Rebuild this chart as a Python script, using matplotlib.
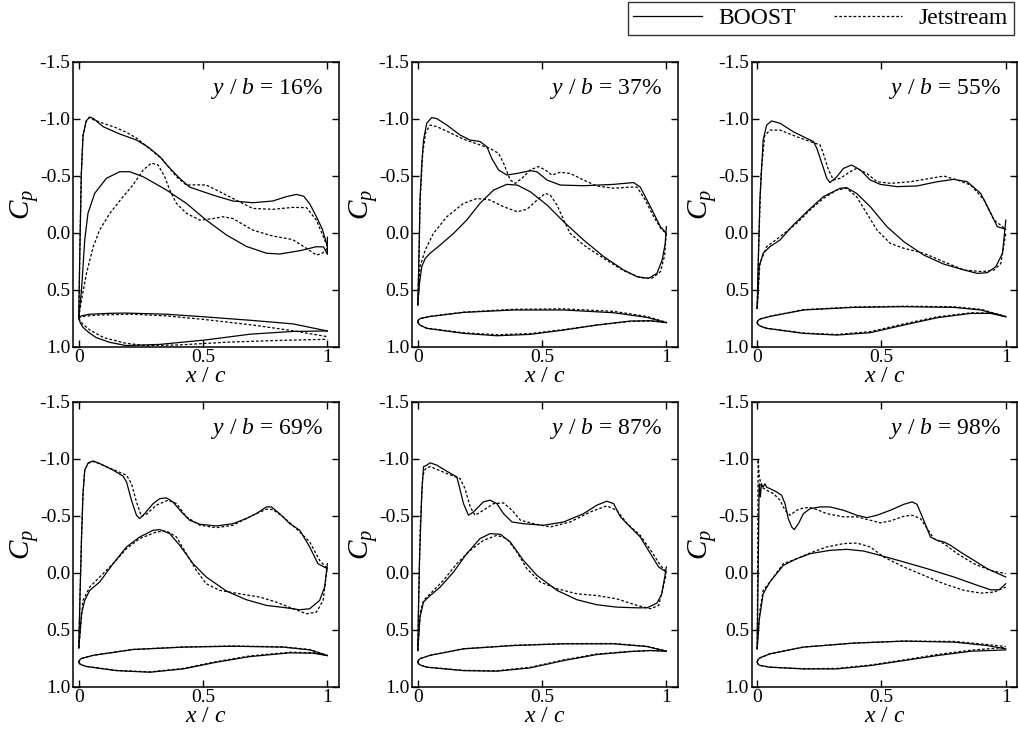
import matplotlib
matplotlib.use("Agg")
import matplotlib.pyplot as plt
from matplotlib.lines import Line2D

plt.rcParams.update({
    "font.family": ["Liberation Serif", "DejaVu Serif"],
    "mathtext.fontset": "custom",
    "mathtext.rm": "Liberation Serif",
    "mathtext.it": "Liberation Serif:italic",
    "axes.unicode_minus": False,
})

# ---------------- data: (x/c, Cp) pairs ----------------
span_labels = ["16%", "37%", "55%", "69%", "87%", "98%"]
x_ticks = [0, 0.5, 1]
x_tick_labels = ["0", "0.5", "1"]
y_ticks = [-1.5, -1.0, -0.5, 0.0, 0.5, 1.0]
y_tick_labels = ["-1.5", "-1.0", "-0.5", "0.0", "0.5", "1.0"]

# y/b = 16%
b16_up = [(0, 0.74), (0.004, 0.2), (0.01, -0.5), (0.017, -0.85), (0.03, -0.98), (0.044, -1.015),
          (0.06, -1.0), (0.098, -0.93), (0.16, -0.87), (0.232, -0.813), (0.28, -0.75), (0.326, -0.667),
          (0.36, -0.58), (0.406, -0.477), (0.446, -0.40), (0.54, -0.33), (0.62, -0.278), (0.70, -0.263),
          (0.78, -0.278), (0.835, -0.316), (0.875, -0.336), (0.905, -0.32), (0.93, -0.25), (0.956, -0.14),
          (0.98, -0.03), (1.0, 0.12)]
b16_lo = [(0, 0.74), (0.011, 0.503), (0.024, 0.064), (0.037, -0.17), (0.064, -0.345), (0.111, -0.477),
          (0.165, -0.535), (0.205, -0.535), (0.26, -0.49), (0.353, -0.374), (0.433, -0.257), (0.513, -0.11),
          (0.594, 0.02), (0.674, 0.12), (0.755, 0.18), (0.808, 0.187), (0.889, 0.158), (0.956, 0.123),
          (0.985, 0.125), (1.0, 0.19), (1.0, 0.04)]
j16_up = [(0, 0.74), (0.004, 0.2), (0.01, -0.5), (0.017, -0.85), (0.03, -0.98), (0.042, -1.01),
          (0.06, -0.99), (0.098, -0.96), (0.151, -0.92), (0.192, -0.88), (0.232, -0.83), (0.272, -0.76),
          (0.339, -0.638), (0.393, -0.49), (0.433, -0.418), (0.487, -0.42), (0.513, -0.418), (0.554, -0.374),
          (0.62, -0.30), (0.70, -0.213), (0.78, -0.205), (0.86, -0.222), (0.916, -0.22), (0.956, -0.11),
          (1.0, 0.12)]
j16_lo = [(0, 0.74), (0.011, 0.59), (0.031, 0.357), (0.058, 0.123), (0.084, -0.023), (0.125, -0.17),
          (0.178, -0.316), (0.218, -0.418), (0.259, -0.55), (0.292, -0.61), (0.319, -0.594), (0.346, -0.49),
          (0.366, -0.374), (0.393, -0.257), (0.433, -0.17), (0.487, -0.11), (0.54, -0.124), (0.58, -0.14),
          (0.62, -0.124), (0.70, -0.023), (0.78, 0.029), (0.86, 0.06), (0.916, 0.137), (0.956, 0.196),
          (0.98, 0.18), (1.0, 0.137)]
ab16_up = [(0, 0.751), (0.003, 0.74), (0.01, 0.73), (0.04, 0.716), (0.125, 0.707), (0.19, 0.705),
           (0.35, 0.715), (0.5, 0.737), (0.7, 0.77), (0.862, 0.80), (1.0, 0.862)]
ab16_lo = [(0, 0.751), (0.006, 0.79), (0.017, 0.83), (0.04, 0.875), (0.07, 0.92), (0.125, 0.962),
           (0.19, 0.99), (0.325, 0.98), (0.513, 0.94), (0.69, 0.89), (0.862, 0.866), (1.0, 0.862)]
aj16_up = [(0, 0.751), (0.005, 0.74), (0.02, 0.733), (0.084, 0.722), (0.218, 0.715), (0.353, 0.73),
           (0.5, 0.76), (0.7, 0.81), (0.862, 0.86), (1.0, 0.912)]
aj16_lo = [(0, 0.751), (0.015, 0.8), (0.044, 0.853), (0.1, 0.92), (0.19, 0.97), (0.27, 0.99),
           (0.4, 0.985), (0.6, 0.96), (0.8, 0.945), (1.0, 0.935)]

# y/b = 37%
b37_up = [(0, 0.634), (0.004, 0.3), (0.009, -0.29), (0.016, -0.6), (0.023, -0.81), (0.036, -0.96),
          (0.056, -1.01), (0.077, -1.0), (0.117, -0.944), (0.17, -0.857), (0.21, -0.813), (0.25, -0.80),
          (0.278, -0.754), (0.298, -0.65), (0.325, -0.55), (0.358, -0.506), (0.40, -0.52), (0.452, -0.544),
          (0.479, -0.535), (0.52, -0.462), (0.573, -0.418), (0.667, -0.412), (0.788, -0.424), (0.868, -0.44),
          (0.895, -0.40), (0.922, -0.287), (0.956, -0.14), (0.976, -0.053), (1.0, 0.006)]
b37_lo = [(0, 0.634), (0.007, 0.444), (0.016, 0.298), (0.03, 0.225), (0.05, 0.18), (0.09, 0.108),
          (0.144, 0.006), (0.197, -0.111), (0.25, -0.257), (0.305, -0.374), (0.358, -0.424), (0.40, -0.418),
          (0.452, -0.36), (0.52, -0.243), (0.587, -0.096), (0.667, 0.064), (0.748, 0.21), (0.828, 0.327),
          (0.882, 0.386), (0.929, 0.40), (0.962, 0.357), (0.983, 0.24), (0.995, 0.1), (1.0, -0.053)]
j37_up = [(0, 0.634), (0.004, 0.3), (0.01, -0.3), (0.02, -0.7), (0.032, -0.88), (0.05, -0.944),
          (0.077, -0.93), (0.117, -0.89), (0.184, -0.82), (0.25, -0.77), (0.29, -0.74), (0.325, -0.696),
          (0.345, -0.61), (0.372, -0.462), (0.392, -0.433), (0.419, -0.477), (0.452, -0.55), (0.486, -0.58),
          (0.513, -0.55), (0.54, -0.506), (0.573, -0.53), (0.613, -0.52), (0.667, -0.462), (0.72, -0.41),
          (0.788, -0.39), (0.855, -0.40), (0.882, -0.40), (0.915, -0.287), (0.949, -0.14), (0.98, -0.03),
          (1.0, 0.006)]
j37_lo = [(0, 0.634), (0.009, 0.30), (0.03, 0.152), (0.063, 0.006), (0.117, -0.14), (0.184, -0.257),
          (0.238, -0.30), (0.29, -0.287), (0.345, -0.228), (0.40, -0.184), (0.439, -0.205), (0.48, -0.287),
          (0.513, -0.345), (0.533, -0.33), (0.56, -0.243), (0.587, -0.111), (0.613, 0.006), (0.667, 0.108),
          (0.748, 0.225), (0.828, 0.333), (0.895, 0.395), (0.942, 0.40), (0.976, 0.342), (0.993, 0.2),
          (1.0, 0.006)]
ab37_up = [(0, 0.781), (0.003, 0.765), (0.01, 0.753), (0.05, 0.735), (0.184, 0.699), (0.385, 0.678),
           (0.587, 0.678), (0.788, 0.702), (0.922, 0.743), (1.0, 0.789)]
ab37_lo = [(0, 0.781), (0.003, 0.797), (0.01, 0.812), (0.036, 0.839), (0.184, 0.883), (0.318, 0.904),
           (0.452, 0.892), (0.587, 0.854), (0.72, 0.81), (0.855, 0.775), (0.936, 0.772), (1.0, 0.789)]
aj37_up = [(0, 0.781), (0.003, 0.765), (0.01, 0.753), (0.05, 0.733), (0.184, 0.697), (0.385, 0.672),
           (0.587, 0.668), (0.788, 0.69), (0.922, 0.735), (1.0, 0.786)]
aj37_lo = [(0, 0.781), (0.003, 0.797), (0.01, 0.812), (0.036, 0.837), (0.184, 0.878), (0.318, 0.895),
           (0.452, 0.885), (0.587, 0.85), (0.72, 0.81), (0.855, 0.778), (0.936, 0.775), (1.0, 0.786)]

# y/b = 55%
b55_up = [(0, 0.664), (0.004, 0.3), (0.011, -0.287), (0.024, -0.81), (0.038, -0.944), (0.058, -0.98),
          (0.092, -0.96), (0.145, -0.886), (0.2, -0.827), (0.226, -0.80), (0.24, -0.74), (0.26, -0.61),
          (0.28, -0.477), (0.293, -0.44), (0.32, -0.49), (0.347, -0.564), (0.38, -0.594), (0.415, -0.55),
          (0.455, -0.462), (0.495, -0.424), (0.563, -0.404), (0.643, -0.41), (0.724, -0.447), (0.791, -0.468),
          (0.845, -0.447), (0.899, -0.345), (0.94, -0.17), (0.966, -0.053), (1.0, -0.03)]
b55_lo = [(0, 0.664), (0.008, 0.298), (0.024, 0.18), (0.051, 0.123), (0.092, 0.064), (0.145, -0.067),
          (0.2, -0.184), (0.266, -0.316), (0.334, -0.39), (0.36, -0.395), (0.40, -0.345), (0.455, -0.228),
          (0.522, -0.053), (0.59, 0.079), (0.67, 0.196), (0.75, 0.275), (0.832, 0.327), (0.886, 0.357),
          (0.926, 0.35), (0.96, 0.298), (0.987, 0.18), (1.0, -0.11)]
j55_up = [(0, 0.664), (0.005, 0.2), (0.015, -0.5), (0.03, -0.85), (0.051, -0.90), (0.092, -0.90),
          (0.159, -0.842), (0.213, -0.80), (0.253, -0.77), (0.266, -0.696), (0.287, -0.55), (0.307, -0.462),
          (0.334, -0.477), (0.374, -0.535), (0.40, -0.564), (0.441, -0.52), (0.482, -0.447), (0.536, -0.433),
          (0.616, -0.447), (0.697, -0.477), (0.751, -0.497), (0.805, -0.462), (0.859, -0.418), (0.913, -0.287),
          (0.953, -0.11), (1.0, -0.03)]
j55_lo = [(0, 0.664), (0.011, 0.27), (0.038, 0.123), (0.092, 0.035), (0.159, -0.082), (0.213, -0.2),
          (0.266, -0.30), (0.32, -0.374), (0.36, -0.39), (0.40, -0.316), (0.441, -0.17), (0.482, -0.023),
          (0.536, 0.094), (0.59, 0.137), (0.67, 0.18), (0.75, 0.254), (0.832, 0.327), (0.906, 0.342),
          (0.953, 0.327), (0.98, 0.27), (1.0, 0.006)]
ab55_up = [(0, 0.789), (0.003, 0.772), (0.01, 0.758), (0.051, 0.735), (0.186, 0.678), (0.388, 0.655),
           (0.59, 0.649), (0.791, 0.655), (0.9, 0.678), (1.0, 0.737)]
ab55_lo = [(0, 0.789), (0.003, 0.803), (0.01, 0.817), (0.038, 0.839), (0.186, 0.883), (0.32, 0.898),
           (0.455, 0.877), (0.59, 0.81), (0.724, 0.746), (0.859, 0.708), (0.94, 0.708), (1.0, 0.737)]
aj55_up = [(0, 0.789), (0.003, 0.772), (0.01, 0.758), (0.051, 0.733), (0.186, 0.675), (0.388, 0.652),
           (0.59, 0.645), (0.791, 0.65), (0.9, 0.672), (1.0, 0.735)]
aj55_lo = [(0, 0.789), (0.003, 0.803), (0.01, 0.817), (0.038, 0.838), (0.186, 0.88), (0.32, 0.893),
           (0.455, 0.868), (0.59, 0.8), (0.724, 0.738), (0.859, 0.703), (0.94, 0.705), (1.0, 0.735)]

# y/b = 69%
b69_up = [(0, 0.66), (0.005, 0.2), (0.011, -0.3), (0.017, -0.694), (0.024, -0.9), (0.038, -0.964),
          (0.058, -0.98), (0.084, -0.958), (0.138, -0.9), (0.178, -0.847), (0.192, -0.797), (0.212, -0.636),
          (0.232, -0.504), (0.245, -0.475), (0.265, -0.518), (0.299, -0.606), (0.326, -0.65), (0.353, -0.656),
          (0.379, -0.62), (0.413, -0.533), (0.446, -0.46), (0.487, -0.425), (0.554, -0.41), (0.62, -0.43),
          (0.674, -0.475), (0.714, -0.518), (0.755, -0.577), (0.775, -0.577), (0.808, -0.518), (0.849, -0.43),
          (0.889, -0.372), (0.929, -0.226), (0.962, -0.079), (1.0, -0.035)]
b69_lo = [(0, 0.66), (0.011, 0.36), (0.024, 0.243), (0.044, 0.155), (0.084, 0.082), (0.138, -0.079),
          (0.192, -0.226), (0.245, -0.313), (0.299, -0.372), (0.326, -0.378), (0.366, -0.343), (0.406, -0.24),
          (0.46, -0.079), (0.513, 0.038), (0.594, 0.161), (0.674, 0.237), (0.755, 0.287), (0.835, 0.308),
          (0.889, 0.325), (0.929, 0.316), (0.969, 0.243), (0.989, 0.126), (1.0, -0.079)]
j69_up = [(0, 0.66), (0.005, 0.2), (0.011, -0.3), (0.017, -0.694), (0.024, -0.9), (0.038, -0.96),
          (0.058, -0.975), (0.084, -0.955), (0.138, -0.905), (0.192, -0.855), (0.212, -0.782), (0.232, -0.621),
          (0.252, -0.495), (0.272, -0.513), (0.312, -0.592), (0.359, -0.636), (0.393, -0.606), (0.433, -0.49),
          (0.487, -0.416), (0.554, -0.395), (0.62, -0.416), (0.70, -0.504), (0.755, -0.557), (0.781, -0.554),
          (0.822, -0.49), (0.875, -0.387), (0.929, -0.27), (0.969, -0.108), (1.0, -0.035)]
j69_lo = [(0, 0.66), (0.017, 0.243), (0.044, 0.126), (0.084, 0.038), (0.138, -0.079), (0.192, -0.211),
          (0.245, -0.299), (0.312, -0.357), (0.353, -0.366), (0.393, -0.313), (0.433, -0.167), (0.473, -0.02),
          (0.513, 0.097), (0.567, 0.155), (0.647, 0.185), (0.728, 0.214), (0.795, 0.258), (0.862, 0.316),
          (0.916, 0.36), (0.956, 0.346), (0.983, 0.243), (1.0, -0.05)]
ab69_up = [(0, 0.785), (0.003, 0.768), (0.01, 0.753), (0.058, 0.725), (0.218, 0.674), (0.42, 0.653),
           (0.62, 0.645), (0.822, 0.653), (0.929, 0.677), (1.0, 0.727)]
ab69_lo = [(0, 0.785), (0.003, 0.797), (0.01, 0.808), (0.031, 0.823), (0.151, 0.859), (0.286, 0.873),
           (0.42, 0.844), (0.554, 0.785), (0.688, 0.736), (0.849, 0.703), (0.942, 0.706), (1.0, 0.727)]
aj69_up = [(0, 0.785), (0.003, 0.768), (0.01, 0.753), (0.058, 0.724), (0.218, 0.673), (0.42, 0.651),
           (0.62, 0.643), (0.822, 0.65), (0.929, 0.674), (1.0, 0.725)]
aj69_lo = [(0, 0.785), (0.003, 0.797), (0.01, 0.808), (0.031, 0.822), (0.151, 0.857), (0.286, 0.87),
           (0.42, 0.84), (0.554, 0.78), (0.688, 0.73), (0.849, 0.698), (0.942, 0.702), (1.0, 0.725)]

# y/b = 87%
b87_up = [(0, 0.683), (0.003, 0.3), (0.007, -0.108), (0.016, -0.694), (0.023, -0.93), (0.036, -0.943),
          (0.05, -0.964), (0.077, -0.943), (0.117, -0.89), (0.157, -0.84), (0.164, -0.782), (0.184, -0.606),
          (0.204, -0.504), (0.224, -0.533), (0.264, -0.621), (0.291, -0.636), (0.318, -0.606), (0.345, -0.518),
          (0.379, -0.445), (0.425, -0.43), (0.506, -0.416), (0.587, -0.445), (0.667, -0.518), (0.72, -0.592),
          (0.76, -0.627), (0.788, -0.606), (0.815, -0.49), (0.855, -0.401), (0.895, -0.313), (0.936, -0.167),
          (0.969, -0.05), (1.0, -0.006)]
b87_lo = [(0, 0.683), (0.009, 0.39), (0.023, 0.258), (0.043, 0.214), (0.09, 0.126), (0.144, -0.006),
          (0.197, -0.167), (0.25, -0.299), (0.291, -0.343), (0.332, -0.337), (0.372, -0.27), (0.425, -0.108),
          (0.479, 0.023), (0.56, 0.155), (0.64, 0.237), (0.72, 0.281), (0.8, 0.302), (0.882, 0.308),
          (0.922, 0.308), (0.962, 0.267), (0.982, 0.185), (1.0, -0.05)]
j87_up = [(0, 0.683), (0.004, 0.2), (0.01, -0.4), (0.02, -0.85), (0.03, -0.91), (0.05, -0.93),
          (0.117, -0.87), (0.17, -0.826), (0.19, -0.738), (0.211, -0.577), (0.23, -0.504), (0.264, -0.548),
          (0.305, -0.606), (0.345, -0.612), (0.379, -0.548), (0.413, -0.46), (0.466, -0.43), (0.533, -0.401),
          (0.613, -0.445), (0.694, -0.533), (0.76, -0.586), (0.8, -0.548), (0.842, -0.43), (0.895, -0.328),
          (0.942, -0.181), (0.976, -0.064), (1.0, -0.006)]
j87_lo = [(0, 0.683), (0.01, 0.35), (0.023, 0.243), (0.05, 0.185), (0.103, 0.068), (0.157, -0.079),
          (0.211, -0.196), (0.264, -0.284), (0.318, -0.328), (0.358, -0.299), (0.399, -0.181), (0.439, -0.035),
          (0.493, 0.082), (0.56, 0.141), (0.64, 0.185), (0.72, 0.2), (0.8, 0.229), (0.882, 0.287),
          (0.936, 0.316), (0.969, 0.287), (1.0, 0.009)]
ab87_up = [(0, 0.785), (0.003, 0.768), (0.01, 0.753), (0.05, 0.725), (0.184, 0.668), (0.385, 0.639),
           (0.587, 0.624), (0.788, 0.624), (0.922, 0.648), (1.0, 0.689)]
ab87_lo = [(0, 0.785), (0.003, 0.798), (0.01, 0.81), (0.036, 0.829), (0.184, 0.859), (0.318, 0.864),
           (0.452, 0.835), (0.587, 0.771), (0.72, 0.718), (0.855, 0.692), (0.936, 0.683), (1.0, 0.689)]
aj87_up = [(0, 0.785), (0.003, 0.768), (0.01, 0.753), (0.05, 0.724), (0.184, 0.667), (0.385, 0.637),
           (0.587, 0.622), (0.788, 0.621), (0.922, 0.645), (1.0, 0.687)]
aj87_lo = [(0, 0.785), (0.003, 0.798), (0.01, 0.81), (0.036, 0.828), (0.184, 0.857), (0.318, 0.86),
           (0.452, 0.83), (0.587, 0.765), (0.72, 0.713), (0.855, 0.69), (0.936, 0.682), (1.0, 0.687)]

# y/b = 98%
b98_up = [(0, 0.668), (0.004, 0.0), (0.008, -0.782), (0.013, -0.665), (0.017, -0.78), (0.024, -0.75),
          (0.031, -0.78), (0.038, -0.75), (0.051, -0.738), (0.078, -0.709), (0.098, -0.68), (0.112, -0.606),
          (0.125, -0.475), (0.139, -0.401), (0.149, -0.378), (0.166, -0.43), (0.186, -0.518), (0.213, -0.562),
          (0.253, -0.577), (0.293, -0.577), (0.347, -0.548), (0.401, -0.504), (0.441, -0.483), (0.482, -0.504),
          (0.536, -0.548), (0.59, -0.6), (0.623, -0.621), (0.643, -0.6), (0.67, -0.46), (0.697, -0.313),
          (0.724, -0.284), (0.751, -0.27), (0.778, -0.24), (0.818, -0.181), (0.872, -0.108), (0.926, -0.035),
          (1.0, 0.038)]
b98_lo = [(0, 0.668), (0.008, 0.419), (0.024, 0.185), (0.051, 0.082), (0.105, -0.064), (0.159, -0.123),
          (0.213, -0.167), (0.293, -0.196), (0.361, -0.205), (0.428, -0.19), (0.495, -0.152), (0.59, -0.094),
          (0.684, -0.035), (0.792, 0.038), (0.886, 0.111), (0.939, 0.15), (0.973, 0.15), (1.0, 0.097)]
j98_up = [(0, 0.668), (0.002, 0.0), (0.004, -0.993), (0.008, -0.85), (0.017, -0.753), (0.038, -0.723),
          (0.065, -0.694), (0.092, -0.636), (0.112, -0.548), (0.132, -0.504), (0.159, -0.548), (0.186, -0.568),
          (0.213, -0.571), (0.24, -0.554), (0.28, -0.518), (0.347, -0.49), (0.401, -0.49), (0.455, -0.46),
          (0.495, -0.437), (0.536, -0.454), (0.59, -0.495), (0.623, -0.504), (0.657, -0.475), (0.684, -0.387),
          (0.711, -0.299), (0.751, -0.255), (0.805, -0.167), (0.872, -0.079), (0.939, -0.02), (1.0, 0.009)]
j98_lo = [(0, 0.668), (0.01, 0.35), (0.024, 0.155), (0.051, 0.082), (0.105, -0.079), (0.159, -0.123),
          (0.213, -0.173), (0.28, -0.226), (0.347, -0.255), (0.401, -0.26), (0.455, -0.226), (0.509, -0.138),
          (0.59, -0.05), (0.67, 0.023), (0.751, 0.097), (0.832, 0.155), (0.9, 0.179), (0.953, 0.17),
          (1.0, 0.126)]
ab98_up = [(0, 0.785), (0.003, 0.765), (0.01, 0.748), (0.051, 0.712), (0.186, 0.653), (0.388, 0.618),
           (0.59, 0.6), (0.792, 0.609), (0.926, 0.639), (1.0, 0.668)]
ab98_lo = [(0, 0.785), (0.003, 0.8), (0.01, 0.813), (0.051, 0.829), (0.186, 0.844), (0.32, 0.844),
           (0.455, 0.815), (0.59, 0.771), (0.724, 0.727), (0.859, 0.689), (1.0, 0.677)]
aj98_up = [(0, 0.785), (0.003, 0.765), (0.01, 0.748), (0.051, 0.712), (0.186, 0.652), (0.388, 0.617),
           (0.59, 0.6), (0.792, 0.603), (0.926, 0.63), (1.0, 0.648)]
aj98_lo = [(0, 0.785), (0.003, 0.8), (0.01, 0.813), (0.051, 0.828), (0.186, 0.842), (0.32, 0.84),
           (0.455, 0.81), (0.59, 0.765), (0.724, 0.718), (0.859, 0.68), (1.0, 0.655)]

boost_curves = [
    [b16_up, b16_lo, ab16_up, ab16_lo],
    [b37_up, b37_lo, ab37_up, ab37_lo],
    [b55_up, b55_lo, ab55_up, ab55_lo],
    [b69_up, b69_lo, ab69_up, ab69_lo],
    [b87_up, b87_lo, ab87_up, ab87_lo],
    [b98_up, b98_lo, ab98_up, ab98_lo],
]
jet_curves = [
    [j16_up, j16_lo, aj16_up, aj16_lo],
    [j37_up, j37_lo, aj37_up, aj37_lo],
    [j55_up, j55_lo, aj55_up, aj55_lo],
    [j69_up, j69_lo, aj69_up, aj69_lo],
    [j87_up, j87_lo, aj87_up, aj87_lo],
    [j98_up, j98_lo, aj98_up, aj98_lo],
]

# ---------------- figure ----------------
W, H = 1018, 736
fig = plt.figure(figsize=(W / 100, H / 100), dpi=100)

LW = 0.9
DASH = (0, (2.2, 1.6))
lefts = [73.3, 412.3, 751.7]
tops = [61.7, 401.7]
aw, ah = 265.5, 285.0


def draw(ax, pts, **kw):
    xs = [p[0] for p in pts]
    ys = [p[1] for p in pts]
    ax.plot(xs, ys, color="black", lw=LW, solid_joinstyle="round", **kw)


for i, label in enumerate(span_labels):
    r, c = divmod(i, 3)
    ax = fig.add_axes([lefts[c] / W, 1 - (tops[r] + ah) / H, aw / W, ah / H])

    for pts in jet_curves[i]:
        draw(ax, pts, linestyle=DASH)
    for pts in boost_curves[i]:
        draw(ax, pts)

    ax.set_xlim(-0.022, 1.046)
    ax.set_ylim(1.0, -1.5)
    ax.set_xticks(x_ticks)
    ax.set_xticklabels(x_tick_labels)
    ax.set_yticks(y_ticks)
    ax.set_yticklabels(y_tick_labels)
    ax.tick_params(direction="in", top=True, right=True, length=5, width=1.0,
                   labelsize=14, pad=2)
    for sp in ax.spines.values():
        sp.set_linewidth(1.1)

    ax.set_xlabel("$x$ / $c$", fontsize=17, labelpad=0)
    ax.set_ylabel("$C_p$", fontsize=21, labelpad=-1)
    ax.text(0.94, 0.905, f"$y$ / $b$ = {label}", transform=ax.transAxes,
            ha="right", va="center", fontsize=17)

handles = [Line2D([], [], color="black", lw=LW),
           Line2D([], [], color="black", lw=LW, linestyle=DASH)]
leg = fig.legend(handles, ["BOOST", "Jetstream"], loc="upper right",
                 bbox_to_anchor=(1014 / W, 1 - 2 / H), ncol=2, frameon=True,
                 fancybox=False, edgecolor="black", fontsize=17,
                 handlelength=2.9, handletextpad=0.7, columnspacing=1.6,
                 borderpad=0.25, borderaxespad=0)
leg.get_frame().set_linewidth(1.0)

fig.savefig("out.png", dpi=100)
